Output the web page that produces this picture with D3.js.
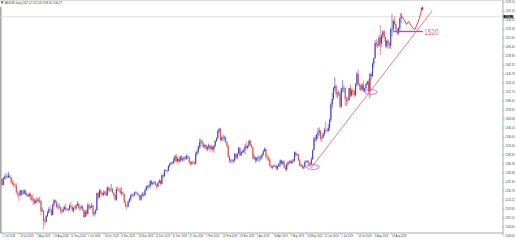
<!DOCTYPE html>
<html><head><meta charset="utf-8">
<script src="https://cdn.jsdelivr.net/npm/d3@7"></script>
<style>html,body{margin:0;padding:0;background:#fff;overflow:hidden}svg{display:block}</style>
</head><body><svg id="c" width="516" height="241"></svg>
<script>
// ---------------- DATA (XAUUSD daily, 2 Jul 2018 .. 4 Sep 2019) ----------------
const symbolInfo = "XAUUSD,Daily  1547.12 1557.08 1538.30 1550.27";
const firstOpen = 1252;
const closes = [
  // Jul 2018
  1241,1253,1256,1257,1255,1258,1255,1246,1243,1241,1240,1227,1224,1222,1231,1224,1225,1231,1223,1223,1220,1224,
  // Aug 2018
  1222,1213,1214,1208,1212,1214,1211,1212,1193,1194,1174,1173,1184,1190,1196,1195,1186,1205,1213,1209,1201,1201,1201,
  // Sep 2018
  1193,1192,1197,1200,1196,1195,1196,1203,1201,1194,1199,1198,1203,1206,1199,1199,1201,1195,1182,1192,
  // Oct 2018
  1188,1204,1199,1200,1203,1188,1190,1194,1226,1218,1231,1226,1223,1226,1227,1222,1236,1232,1232,1233,1227,1222,1214,
  // Nov 2018
  1233,1232,1231,1226,1227,1224,1209,1202,1201,1210,1215,1222,1223,1222,1227,1227,1223,1222,1214,1222,1224,1222,
  // Dec 2018
  1231,1238,1238,1238,1248,1243,1245,1246,1241,1238,1245,1249,1243,1259,1257,1268,1268,1267,1276,1280,1282,
  // Jan 2019
  1282,1286,1294,1285,1289,1284,1293,1287,1289,1291,1289,1294,1292,1282,1280,1283,1282,1280,1298,1302,1312,1319,1321,
  // Feb 2019
  1317,1311,1314,1307,1310,1314,1307,1311,1306,1313,1322,1327,1340,1344,1324,1328,1328,1329,1320,1313,
  // Mar 2019
  1293,1286,1287,1285,1286,1298,1291,1299,1309,1295,1302,1302,1306,1312,1309,1313,1322,1315,1310,1290,1292,
  // Apr 2019
  1286,1291,1291,1290,1292,1297,1303,1307,1292,1290,1288,1276,1273,1275,1276,1276,1271,1275,1280,1286,1280,1284,
  // May 2019
  1273,1270,1279,1282,1284,1281,1285,1286,1301,1296,1297,1286,1277,1277,1273,1274,1283,1284,1284,1279,1280,1288,1305,
  // Jun 2019
  1327,1325,1333,1337,1341,1327,1327,1335,1342,1341,1340,1346,1361,1389,1399,1419,1423,1408,1409,1409,
  // Jul 2019
  1385,1418,1418,1419,1399,1396,1397,1419,1405,1415,1413,1406,1426,1445,1426,1424,1416,1425,1414,1419,1426,1431,1413,
  // Aug 2019
  1445,1441,1464,1474,1502,1500,1497,1512,1501,1516,1523,1513,1496,1506,1501,1497,1527,1527,1542,1537,1527,1520,
  // Sep 2019
  1529,1547,1550
];
const highs = [
  1253,1256,1259,1262,1262,1265,1262,1256,1250,1248,1244,1244,1230,1227,1232,1232,1232,1233,1232,1227,1226,1227,
  1227,1223,1218,1215,1216,1219,1217,1219,1212,1200,1194,1180,1186,1194,1200,1202,1197,1206,1215,1214,1212,1206,1207,
  1201,1196,1201,1203,1206,1199,1199,1206,1210,1204,1200,1204,1205,1211,1208,1203,1203,1205,1196,1195,
  1195,1208,1207,1203,1208,1204,1192,1197,1227,1229,1233,1233,1228,1231,1230,1232,1239,1237,1236,1243,1236,1229,1225,
  1237,1238,1236,1237,1236,1229,1226,1212,1205,1212,1217,1224,1226,1225,1228,1230,1227,1225,1223,1224,1228,1227,
  1234,1240,1241,1242,1250,1250,1247,1249,1247,1243,1246,1252,1250,1260,1263,1270,1269,1270,1277,1281,1283,
  1284,1291,1296,1298,1292,1289,1295,1296,1292,1294,1295,1297,1296,1293,1284,1285,1286,1284,1302,1305,1313,1326,1326,
  1324,1318,1316,1316,1313,1317,1314,1314,1313,1314,1323,1328,1342,1346,1346,1330,1334,1332,1330,1321,
  1315,1295,1289,1288,1289,1300,1298,1299,1311,1310,1303,1305,1308,1316,1320,1314,1324,1324,1316,1311,1297,
  1293,1292,1295,1295,1295,1299,1306,1310,1309,1297,1295,1290,1279,1277,1277,1279,1278,1277,1282,1288,1287,1286,
  1286,1276,1281,1285,1286,1287,1288,1289,1302,1303,1299,1298,1288,1280,1280,1276,1286,1287,1286,1287,1283,1292,1306,
  1329,1333,1335,1345,1347,1340,1330,1337,1346,1358,1345,1353,1363,1393,1411,1421,1439,1425,1413,1415,
  1412,1420,1434,1424,1420,1403,1403,1420,1426,1418,1418,1416,1428,1449,1453,1428,1427,1428,1433,1420,1428,1432,1435,
  1446,1449,1466,1475,1507,1509,1505,1516,1535,1518,1525,1526,1513,1508,1509,1504,1530,1555,1545,1551,1538,1530,
  1531,1549,1557
];
const lows = [
  1238,1240,1251,1251,1253,1254,1253,1243,1241,1237,1236,1226,1219,1211,1220,1221,1223,1224,1222,1220,1219,1218,
  1213,1210,1204,1205,1206,1208,1209,1207,1185,1191,1160,1167,1172,1182,1188,1192,1184,1185,1201,1207,1198,1196,1197,
  1189,1187,1190,1194,1193,1193,1192,1194,1199,1191,1190,1197,1195,1202,1197,1193,1196,1193,1180,1182,
  1184,1187,1196,1196,1198,1183,1183,1186,1194,1214,1218,1222,1221,1220,1223,1220,1221,1230,1228,1229,1226,1219,1212,
  1212,1230,1228,1224,1221,1223,1208,1200,1196,1200,1208,1212,1219,1219,1220,1226,1222,1220,1212,1212,1220,1218,
  1221,1230,1235,1233,1236,1241,1240,1242,1240,1233,1237,1244,1240,1243,1253,1256,1266,1263,1266,1273,1278,
  1279,1279,1283,1280,1283,1279,1283,1285,1284,1284,1287,1287,1289,1280,1276,1278,1279,1277,1279,1295,1299,1307,1310,
  1311,1309,1308,1304,1303,1306,1302,1306,1303,1300,1310,1320,1325,1336,1321,1321,1322,1321,1318,1310,
  1290,1281,1281,1281,1281,1283,1289,1288,1298,1293,1295,1299,1300,1297,1308,1306,1311,1313,1308,1288,1287,
  1281,1283,1285,1283,1286,1288,1295,1302,1291,1286,1284,1275,1271,1270,1274,1273,1268,1268,1274,1274,1278,1278,
  1271,1267,1266,1276,1280,1280,1279,1282,1283,1292,1294,1285,1275,1274,1270,1270,1271,1281,1282,1276,1274,1277,1287,
  1305,1320,1321,1326,1331,1323,1320,1327,1331,1337,1337,1339,1341,1356,1381,1397,1413,1402,1400,1404,
  1382,1383,1411,1411,1386,1386,1392,1396,1402,1403,1407,1402,1405,1423,1422,1415,1413,1414,1412,1411,1417,1424,1410,
  1400,1433,1439,1456,1473,1494,1492,1495,1480,1495,1510,1505,1492,1493,1491,1492,1491,1514,1523,1534,1523,1516,
  1517,1523,1538
];
const timeLabels = ["2 Jul 2018","19 Jul 2018","7 Aug 2018","24 Aug 2018","12 Sep 2018","1 Oct 2018",
  "18 Oct 2018","6 Nov 2018","23 Nov 2018","12 Dec 2018","31 Dec 2018","17 Jan 2019","5 Feb 2019",
  "22 Feb 2019","13 Mar 2019","1 Apr 2019","18 Apr 2019","7 May 2019","24 May 2019","12 Jun 2019",
  "1 Jul 2019","18 Jul 2019","6 Aug 2019","23 Aug 2019"];
const timeLabelEvery = 13; // bars between time labels
const priceLabels = [1578.10,1561.56,1545.02,1528.48,1511.94,1495.40,1478.86,1462.32,1445.78,1429.24,
  1412.70,1396.16,1379.62,1363.08,1346.54,1330.00,1313.46,1296.92,1280.38,1263.84,1247.30,1230.76,
  1214.22,1197.68,1181.14,1164.60,1148.06];
const bidPrice = 1550.27;
// drawn objects (bar index, price)
const trendLine = [{bar:237.7, price:1272.1},{bar:330.8, price:1560.7}];
const ellipses = [{bar:239.2, price:1273.9},{bar:283.7, price:1411.8}];
const level = {from:300.8, to:323.8, price:1523, label:"1520"};
const projBars   = [306.2, 308.5, 311.2, 312.7, 315.4, 317.7, 320.4, 323.5];
const projPrices = [1555.2,1547.8,1535.9,1541.4,1531.3,1526.7,1542.3,1568.0];

// ---------------- DRAW ----------------
const svg = d3.select("#c");
const W = 516, H = 241, axisX = 503, axisY = 233;
const x = d3.scaleLinear().domain([0, closes.length - 1]).range([2, 401.1]);
const y = d3.scaleLinear().domain([1148.06, 1578.10]).range([235.5, 1.5]);
const bull = "#3c3cd2", bear = "#e6483c";
const FONT = "'Liberation Sans', Arial, sans-serif";

svg.append("rect").attr("width", W).attr("height", H).attr("fill", "#fff");

// frame lines
svg.append("line").attr("x1",0).attr("x2",axisX).attr("y1",0.4).attr("y2",0.4).attr("stroke","#c8c8c8").attr("stroke-width",0.7);
svg.append("rect").attr("x",0).attr("y",7).attr("width",1.6).attr("height",axisY-7).attr("fill","#a8a8a8");

// bid line
svg.append("line").attr("x1",0).attr("x2",axisX).attr("y1",y(bidPrice)).attr("y2",y(bidPrice))
  .attr("stroke","#d0d0d0").attr("stroke-width",0.6);

// candles
const bars = closes.map((c,i)=>{
  const o = i ? closes[i-1] : firstOpen;
  return {i, o, c, h: Math.max(highs[i], o, c), l: Math.min(lows[i], o, c)};
});
const g = svg.append("g");
g.selectAll("line.w").data(bars).join("line").attr("class","w")
  .attr("x1",d=>x(d.i)).attr("x2",d=>x(d.i)).attr("y1",d=>y(d.h)).attr("y2",d=>y(d.l))
  .attr("stroke",d=>d.c>=d.o?bull:bear).attr("stroke-width",0.6);
g.selectAll("rect.b").data(bars).join("rect").attr("class","b")
  .attr("x",d=>x(d.i)-0.5).attr("width",1)
  .attr("y",d=>y(Math.max(d.o,d.c))).attr("height",d=>Math.max(0.5, Math.abs(y(d.o)-y(d.c))))
  .attr("fill",d=>d.c>=d.o?bull:bear);

// trend line
svg.append("line")
  .attr("x1",x(trendLine[0].bar)).attr("y1",y(trendLine[0].price))
  .attr("x2",x(trendLine[1].bar)).attr("y2",y(trendLine[1].price))
  .attr("stroke","#f0605a").attr("stroke-width",0.8);

// ellipses
svg.selectAll("ellipse.e").data(ellipses).join("ellipse").attr("class","e")
  .attr("cx",d=>x(d.bar)).attr("cy",d=>y(d.price)).attr("rx",6.3).attr("ry",2.4)
  .attr("fill","none").attr("stroke","#e040e0").attr("stroke-width",0.8);

// level 1520
svg.append("line").attr("x1",x(level.from)).attr("x2",x(level.to)).attr("y1",y(level.price)).attr("y2",y(level.price))
  .attr("stroke","#d23cd2").attr("stroke-width",1.4);
svg.append("text").attr("x",x(level.to)+1.2).attr("y",y(level.price)+3.4)
  .attr("font-family",FONT).attr("font-size",8.5)
  .attr("textLength",14.5).attr("lengthAdjust","spacingAndGlyphs")
  .attr("fill","#f07575").text(level.label);

// projection arrow
const defs = svg.append("defs");
defs.append("marker").attr("id","ah").attr("viewBox","0 0 10 10").attr("refX",8).attr("refY",5)
  .attr("markerWidth",4).attr("markerHeight",4).attr("orient","auto")
  .append("path").attr("d","M0,0L10,5L0,10z").attr("fill","#e8302c");
const proj = projBars.map((b,i)=>[x(b), y(projPrices[i])]);
svg.append("path").attr("d", d3.line()(proj)).attr("fill","none")
  .attr("stroke","#e8302c").attr("stroke-width",0.9).attr("marker-end","url(#ah)");

// right price axis
const yAxis = d3.axisRight(y).tickValues(priceLabels).tickFormat(d=>d.toFixed(2)).tickSize(1.5).tickPadding(0.8);
const ya = svg.append("g").attr("transform",`translate(${axisX},0)`).call(yAxis);
ya.select(".domain").remove();
ya.selectAll("line").attr("stroke","#777").attr("stroke-width",0.4);
ya.selectAll("text").attr("font-family",FONT).attr("font-size",2.6).attr("fill","#444");
svg.append("line").attr("x1",axisX).attr("x2",axisX).attr("y1",0).attr("y2",235).attr("stroke","#8a8a8a").attr("stroke-width",0.7);

// bid label box
svg.append("rect").attr("x",axisX+0.5).attr("y",y(bidPrice)-1.6).attr("width",10).attr("height",3.2).attr("fill","#111");
svg.append("text").attr("x",axisX+1.8).attr("y",y(bidPrice)+0.9).attr("font-family",FONT).attr("font-size",2.6)
  .attr("fill","#fff").text(bidPrice.toFixed(2));

// bottom time axis
const tickIdx = timeLabels.map((_,k)=>k*timeLabelEvery);
const xAxis = d3.axisBottom(x).tickValues(tickIdx).tickFormat((d,k)=>timeLabels[k]).tickSize(1.5).tickPadding(0.6);
const xa = svg.append("g").attr("transform",`translate(0,${axisY})`).call(xAxis);
xa.select(".domain").remove();
xa.selectAll("line").attr("stroke","#777").attr("stroke-width",0.4);
xa.selectAll("text").attr("font-family",FONT).attr("font-size",2.6).attr("fill","#444")
  .attr("text-anchor","start").attr("dx",0.8);
svg.append("line").attr("x1",0).attr("x2",axisX).attr("y1",axisY).attr("y2",axisY).attr("stroke","#8a8a8a").attr("stroke-width",0.7);

// symbol info (top-left)
svg.append("path").attr("d","M0.8,1.6L3.4,1.6L2.1,4z").attr("fill","#333");
svg.append("text").attr("x",4.2).attr("y",4.2).attr("font-family",FONT).attr("font-size",2.6).attr("fill","#333").text(symbolInfo);
</script></body></html>
